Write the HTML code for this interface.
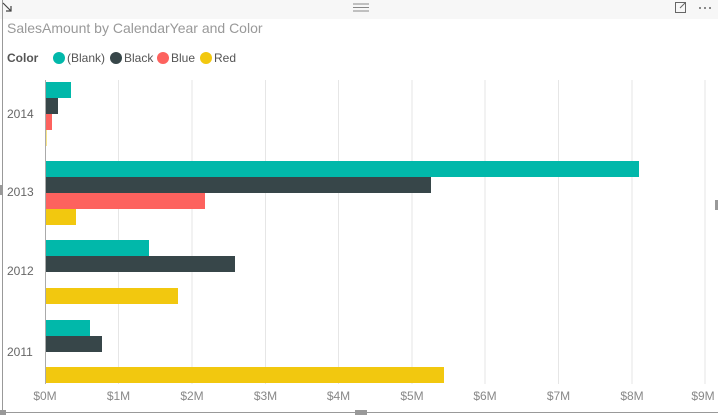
<!DOCTYPE html>
<html><head><meta charset="utf-8"><style>
html,body{margin:0;padding:0;background:#fff;width:718px;height:419px;overflow:hidden}
text{font-family:"Liberation Sans","DejaVu Sans",sans-serif}
</style></head><body>
<svg width="718" height="419" viewBox="0 0 718 419">
<rect x="0" y="0" width="718" height="19" fill="#f7f7f7"/>
<line x1="2.5" y1="0" x2="2.5" y2="412" stroke="#999"/>
<line x1="0" y1="412.5" x2="718" y2="412.5" stroke="#999"/>
<rect x="355" y="410" width="12" height="5" fill="#999"/>
<rect x="0" y="410" width="6" height="5" fill="#999"/>
<rect x="0" y="185" width="3" height="10" fill="#999"/>
<rect x="715" y="200" width="3" height="10" fill="#999"/>
<path d="M3 3 L11 11 M6 11 H11 V6" stroke="#444" fill="none" stroke-width="1.2"/>
<path d="M353 4 H369 M353 7.5 H369 M353 11 H369" stroke="#888" stroke-width="1"/>
<rect x="675.5" y="2.5" width="10" height="10" fill="none" stroke="#666"/>
<path d="M680 8 L685 3" stroke="#666"/>
<circle cx="700" cy="8" r="1" fill="#666"/><circle cx="705" cy="8" r="1" fill="#666"/><circle cx="710" cy="8" r="1" fill="#666"/>
<text x="7" y="33" font-size="14" fill="#999">SalesAmount by CalendarYear and Color</text>
<text x="7" y="62" font-size="12" font-weight="bold" fill="#555">Color</text>
<circle cx="59" cy="58" r="6" fill="#01b8aa"/><text x="67" y="62" font-size="12" fill="#555">(Blank)</text>
<circle cx="116" cy="58" r="6" fill="#374649"/><text x="124" y="62" font-size="12" fill="#555">Black</text>
<circle cx="163" cy="58" r="6" fill="#fd625e"/><text x="171" y="62" font-size="12" fill="#555">Blue</text>
<circle cx="206" cy="58" r="6" fill="#f2c80f"/><text x="214" y="62" font-size="12" fill="#555">Red</text>
<g stroke="#e6e6e6" stroke-width="1">
<line x1="118.5" y1="80" x2="118.5" y2="384"/><line x1="192" y1="80" x2="192" y2="384"/><line x1="265.5" y1="80" x2="265.5" y2="384"/><line x1="338.5" y1="80" x2="338.5" y2="384"/><line x1="412" y1="80" x2="412" y2="384"/><line x1="485" y1="80" x2="485" y2="384"/><line x1="558.5" y1="80" x2="558.5" y2="384"/><line x1="632" y1="80" x2="632" y2="384"/><line x1="705" y1="80" x2="705" y2="384"/>
</g>
<g>
<rect x="45" y="82" width="26" height="16" fill="#01b8aa"/>
<rect x="45" y="98" width="13" height="16" fill="#374649"/>
<rect x="45" y="114" width="7" height="16" fill="#fd625e"/>
<rect x="45" y="130" width="1.5" height="16" fill="#f2c80f"/>
<rect x="45" y="161" width="594" height="16" fill="#01b8aa"/>
<rect x="45" y="177" width="386" height="16" fill="#374649"/>
<rect x="45" y="193" width="160" height="16" fill="#fd625e"/>
<rect x="45" y="209" width="31" height="16" fill="#f2c80f"/>
<rect x="45" y="240" width="104" height="16" fill="#01b8aa"/>
<rect x="45" y="256" width="190" height="16" fill="#374649"/>
<rect x="45" y="288" width="133" height="16" fill="#f2c80f"/>
<rect x="45" y="320" width="45" height="16" fill="#01b8aa"/>
<rect x="45" y="336" width="57" height="16" fill="#374649"/>
<rect x="45" y="367" width="399" height="16" fill="#f2c80f"/>
</g>
<line x1="45.5" y1="80" x2="45.5" y2="384" stroke="#aaa"/>
<g font-size="12" fill="#666">
<text x="7" y="118">2014</text><text x="7" y="196">2013</text><text x="7" y="275">2012</text><text x="7" y="356">2011</text>
</g>
<g font-size="12" fill="#888" text-anchor="middle">
<text x="45" y="400">$0M</text><text x="118.5" y="400">$1M</text><text x="192" y="400">$2M</text><text x="265.5" y="400">$3M</text><text x="338.5" y="400">$4M</text><text x="412" y="400">$5M</text><text x="485" y="400">$6M</text><text x="558.5" y="400">$7M</text><text x="632" y="400">$8M</text><text x="703" y="400">$9M</text>
</g>
</svg>
</body></html>
